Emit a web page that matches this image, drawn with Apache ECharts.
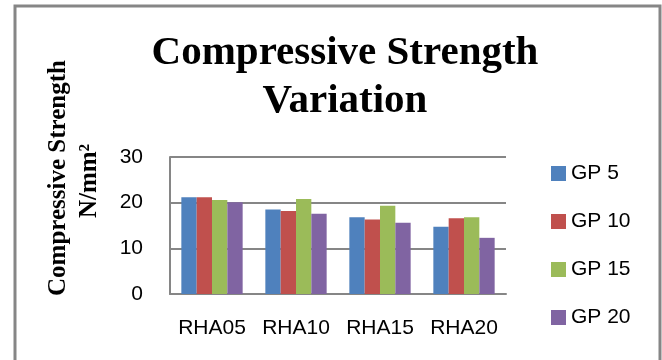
<!DOCTYPE html>
<html>
<head>
<meta charset="utf-8">
<script src="https://cdn.jsdelivr.net/npm/echarts@6/dist/echarts.min.js"></script>
<style>
  html, body { margin: 0; padding: 0; background: #fff; }
  #main { width: 662px; height: 360px; }
</style>
</head>
<body>
<div id="main"></div>
<script>
// data
var categories = ['RHA05', 'RHA10', 'RHA15', 'RHA20'];
var seriesNames = ['GP 5', 'GP 10', 'GP 15', 'GP 20'];
var gp5  = [21.2, 18.5, 16.8, 14.7];
var gp10 = [21.2, 18.2, 16.3, 16.6];
var gp15 = [20.6, 20.8, 19.3, 16.8];
var gp20 = [20.1, 17.6, 15.6, 12.3];
var colors = ['#4F81BD', '#C0504D', '#9BBB59', '#8064A2'];

var myChart = echarts.init(document.getElementById('main'));

var values = [gp5, gp10, gp15, gp20];
var series = seriesNames.map(function (name, i) {
    return {
        name: name,
        type: 'bar',
        barGap: '0%',
        barCategoryGap: '27%',
        data: values[i],
        itemStyle: { color: colors[i] }
    };
});

var option = {
    animation: false,
    color: colors,
    title: {
        text: 'Compressive Strength\nVariation',
        left: 340,
        textAlign: 'center',
        top: 24,
        textStyle: {
            fontFamily: 'Liberation Serif',
            fontWeight: 'bold',
            fontSize: 41,
            lineHeight: 48,
            color: '#000'
        }
    },
    legend: {
        orient: 'vertical',
        left: 546,
        top: 158,
        itemWidth: 15,
        itemHeight: 15,
        itemGap: 27,
        icon: 'rect',
        data: seriesNames,
        textStyle: { fontFamily: 'Liberation Sans', fontSize: 21, color: '#000' }
    },
    grid: { left: 170, right: 156, top: 157, bottom: 66 },
    xAxis: {
        type: 'category',
        data: categories,
        axisLine: { lineStyle: { color: '#868686', width: 2 } },
        axisTick: { show: false },
        axisLabel: { interval: 0, fontFamily: 'Liberation Sans', fontSize: 21, color: '#000', margin: 24 }
    },
    yAxis: {
        type: 'value',
        min: 0,
        max: 30,
        interval: 10,
        axisLine: { show: true, lineStyle: { color: '#868686', width: 2 } },
        axisTick: { show: false },
        splitLine: { lineStyle: { color: '#868686', width: 2 } },
        axisLabel: { fontFamily: 'Liberation Sans', fontSize: 21, color: '#000', margin: 27 }
    },
    graphic: [
        {
            type: 'rect',
            shape: { x: 15, y: 6, width: 645, height: 360 },
            style: { fill: 'none', stroke: '#868686', lineWidth: 3 },
            silent: true
        },
        {
            type: 'text',
            x: 59, y: 178,
            rotation: Math.PI / 2,
            style: {
                text: 'Compressive Strength',
                font: 'bold 25px "Liberation Serif"',
                fill: '#000',
                textAlign: 'center',
                textVerticalAlign: 'middle'
            }
        },
        {
            type: 'text',
            x: 90, y: 181,
            rotation: Math.PI / 2,
            style: {
                text: 'N/mm\u00b2',
                font: 'bold 25px "Liberation Serif"',
                fill: '#000',
                textAlign: 'center',
                textVerticalAlign: 'middle'
            }
        }
    ],
    series: series
};

myChart.setOption(option);
</script>
</body>
</html>
